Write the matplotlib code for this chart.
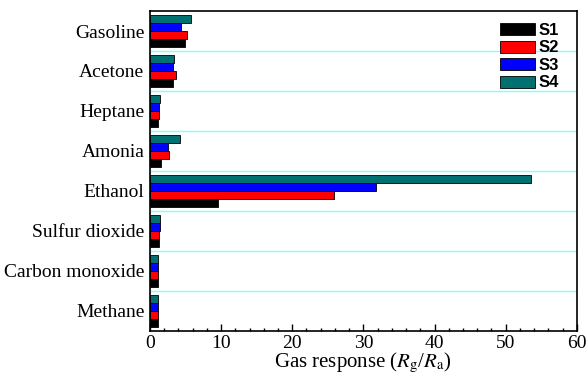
import numpy as np
import matplotlib.pyplot as plt
from matplotlib.ticker import MultipleLocator

plt.rcParams['font.family'] = ['Liberation Serif', 'DejaVu Serif']
plt.rcParams['mathtext.fontset'] = 'stix'

gases = ["Gasoline", "Acetone", "Heptane", "Amonia", "Ethanol",
         "Sulfur dioxide", "Carbon monoxide", "Methane"]
s1 = [4.9, 3.3, 1.2, 1.5, 9.6, 1.3, 1.2, 1.1]
s2 = [5.2, 3.6, 1.3, 2.7, 25.9, 1.3, 1.2, 1.1]
s3 = [4.4, 3.3, 1.3, 2.6, 31.8, 1.4, 1.2, 1.1]
s4 = [5.8, 3.4, 1.4, 4.2, 53.5, 1.4, 1.2, 1.1]

series = [("S1", s1, "#000000"), ("S2", s2, "#ff0000"),
          ("S3", s3, "#0000ff"), ("S4", s4, "#007070")]

fig = plt.figure(figsize=(5.88, 3.86), dpi=100)
ax = fig.add_axes([0.255, 0.1425, 0.726, 0.829])

n = len(gases)
pos = n - 1 - np.arange(n)
h = 0.2
for k, (name, vals, col) in enumerate(series):
    ax.barh(pos + (k - 1.5) * h, vals, height=h, color=col,
            edgecolor="black", linewidth=0.6, label=name)

# cyan separators between gas groups
for y in np.arange(0.5, n - 1, 1.0):
    ax.axhline(y, color="#80ffff", linewidth=1.0, zorder=0)

ax.set_xlim(0, 60)
ax.set_ylim(-0.5, n - 0.5)
ax.set_yticks(pos)
ax.set_yticklabels(gases, fontsize=14)
ax.tick_params(axis="y", length=0, pad=4)
ax.xaxis.set_major_locator(MultipleLocator(10))
ax.xaxis.set_minor_locator(MultipleLocator(2))
ax.tick_params(axis="x", which="major", direction="in", length=5, labelsize=14, width=1, pad=3)
ax.tick_params(axis="x", which="minor", direction="in", length=2.5, width=1)
for sp in ax.spines.values():
    sp.set_linewidth(1.2)

ax.set_xlabel(r"Gas response ($R_\mathrm{g}$/$R_\mathrm{a}$)", fontsize=15, labelpad=-1)

leg = ax.legend(loc="upper right", bbox_to_anchor=(1.0, 1.02), frameon=False,
                prop={"family": "Liberation Sans", "size": 12, "weight": "bold"},
                handlelength=2.1, handleheight=0.75, labelspacing=0.15,
                handletextpad=0.2, borderaxespad=0.8, borderpad=0.3)

fig.savefig("out.png", dpi=100)
